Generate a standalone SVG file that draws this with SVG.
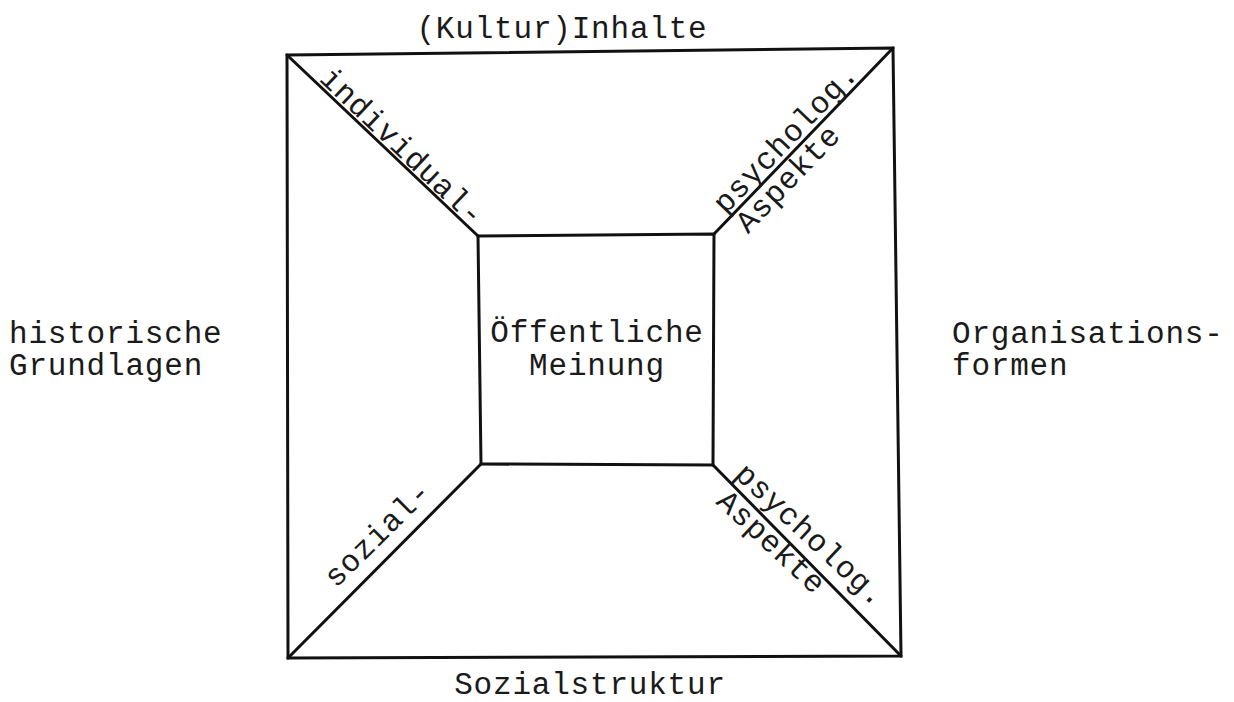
<svg xmlns="http://www.w3.org/2000/svg" width="1234" height="702" viewBox="0 0 1234 702">
<style>
.t{font-family:"Liberation Mono","Courier New",monospace;font-size:31px;letter-spacing:0.8px;fill:#1a1a1a}
.m{text-anchor:middle}
.ln{stroke:#111;stroke-width:3;fill:none;stroke-linejoin:miter;stroke-linecap:round}
</style>
<rect width="1234" height="702" fill="#fff"/>
<g id="connectors">
<polygon class="ln" points="287,55 893,48 901,656 288,658"/>
<line class="ln" x1="287" y1="55" x2="478" y2="236"/>
<line class="ln" x1="893" y1="48" x2="714" y2="234"/>
<line class="ln" x1="288" y1="658" x2="481" y2="464"/>
<line class="ln" x1="901" y1="656" x2="713" y2="465"/>
</g>
<g id="center">
<polygon class="ln" points="478,236 714,234 713,465 481,464"/>
<text class="t m" x="597" y="342">Öffentliche</text>
<text class="t m" x="597" y="375">Meinung</text>
</g>
<g id="top"><text class="t m" x="562" y="38">(Kultur)Inhalte</text></g>
<g id="bottom"><text class="t m" x="590" y="694">Sozialstruktur</text></g>
<g id="left"><text class="t" x="9" y="343">historische</text><text class="t" x="9" y="375">Grundlagen</text></g>
<g id="right"><text class="t" x="952" y="343">Organisations-</text><text class="t" x="952" y="375">formen</text></g>
<g id="diag-tl"><text class="t" transform="translate(318.2,80.1) rotate(43.6)">individual-</text></g>
<g id="diag-tr">
<text class="t" transform="translate(725.4,214.9) rotate(-46.1)">psycholog.</text>
<text class="t" transform="translate(748,234.5) rotate(-46.1)">Aspekte</text>
</g>
<g id="diag-bl"><text class="t" transform="translate(336,588.8) rotate(-44.6)">sozial-</text></g>
<g id="diag-br">
<text class="t" transform="translate(733.3,476.1) rotate(43)">psycholog.</text>
<text class="t" transform="translate(715,503) rotate(43)">Aspekte</text>
</g>
</svg>
